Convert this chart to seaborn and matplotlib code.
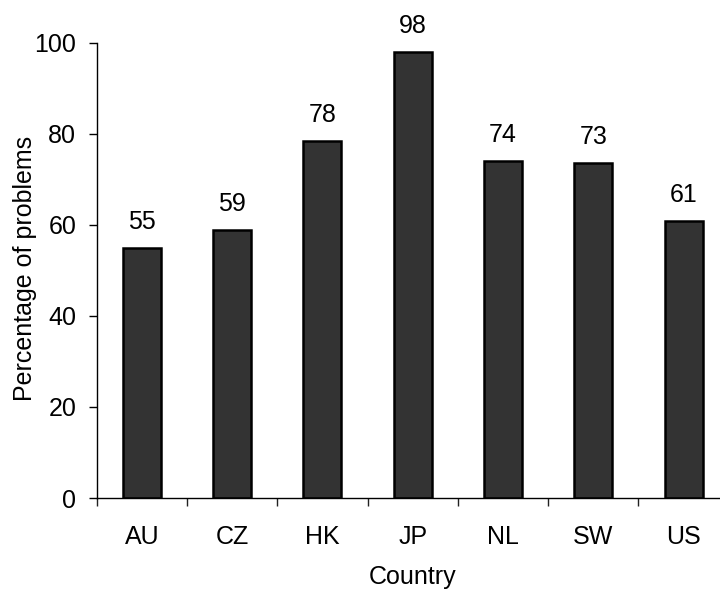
import matplotlib
matplotlib.use("Agg")
import matplotlib.pyplot as plt
import seaborn as sns
import pandas as pd
import numpy as np

countries = ["AU", "CZ", "HK", "JP", "NL", "SW", "US"]
percentages = [54.8, 58.9, 78.4, 97.9, 74.1, 73.5, 60.8]
value_labels = ["55", "59", "78", "98", "74", "73", "61"]
y_ticks = [0, 20, 40, 60, 80, 100]

sns.set_theme(style="white")
plt.rcParams["font.family"] = ["Liberation Sans", "DejaVu Sans"]
FS = 18

df = pd.DataFrame({"Country": countries, "Percentage": percentages})

fig = plt.figure(figsize=(7.2, 5.91), dpi=100)
ax = fig.add_axes([96.7 / 720, 93 / 591, 632 / 720, 455.3 / 591])

sns.barplot(data=df, x="Country", y="Percentage", ax=ax, color="#333333",
            width=0.42, edgecolor="black", linewidth=1.8, saturation=1)

for i, (v, lab) in enumerate(zip(percentages, value_labels)):
    ax.annotate(lab, (i, v), xytext=(0, 13.7), textcoords="offset points",
                ha="center", va="baseline", fontsize=FS, color="black")

ax.set_xlim(-0.5, 6.5)
ax.set_ylim(0, 100)
ax.set_yticks(y_ticks)
ax.set_yticklabels([str(t) for t in y_ticks], fontsize=FS)
ax.set_xticks(range(len(countries)))
ax.set_xticklabels(countries, fontsize=FS)
ax.set_xticks(np.arange(-0.5, len(countries), 1.0), minor=True)
ax.tick_params(axis="x", which="major", length=0, pad=19.5, labelcolor="black")
ax.tick_params(axis="x", which="minor", length=6, width=1, color="#222222", direction="out", bottom=True)
ax.tick_params(axis="y", which="major", length=5.8, width=1, color="black", labelcolor="black",
               direction="out", left=True, pad=9)

for s in ["top", "right"]:
    ax.spines[s].set_visible(False)
for s in ["left", "bottom"]:
    ax.spines[s].set_color("black")
    ax.spines[s].set_linewidth(1)

ax.set_xlabel("Country", fontsize=FS, color="black")
ax.set_ylabel("Percentage of problems", fontsize=FS, color="black")
ax.xaxis.set_label_coords(0.5, -0.147)
ax.yaxis.set_label_coords(-0.0945, 0.505)
ax.grid(False)

fig.savefig("out.png", dpi=100)
